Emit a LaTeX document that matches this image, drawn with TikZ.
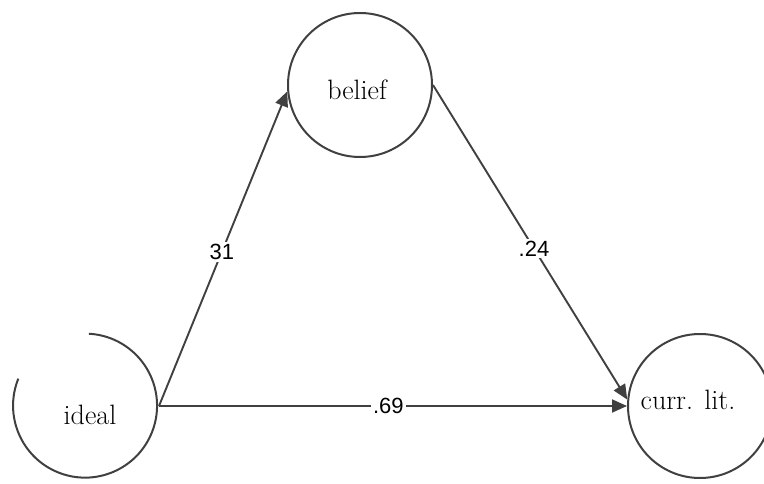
\documentclass[tikz,border=0pt]{standalone}
\usepackage{fontspec}
\newfontfamily\numfont{Liberation Sans}
\usetikzlibrary{arrows.meta}
\begin{document}
\begin{tikzpicture}[x=1pt,y=1pt,
  circ/.style={circle, draw=black!75, line width=2pt, minimum size=144pt, inner sep=0pt},
  txt/.style={inner sep=0pt, font=\fontsize{28}{32}\selectfont},
  conn/.style={draw=black!75, line width=1.9pt},
  arr/.style={conn, -{Triangle[length=15pt,width=13pt]}},
  lbl/.style={fill=white, inner sep=2pt, font=\numfont\fontsize{22}{26}\selectfont}]
\useasboundingbox (0,0) rectangle (764,483);
% circles
\node[circ, draw=none] (ideal) at (86,77) {};
\draw[draw=black!75, line width=2pt] (ideal.158) arc[start angle=158, end angle=447, radius=72pt];
\node[circ] (belief) at (360,398) {};
\node[circ] (currlit) at (700,77) {};
% texts
\node[txt] (idealtxt) at (90,68) {ideal};
\node[txt] (belieftxt) at (357,393) {belief};
\node[txt] (currlittxt) at (688,83) {curr. lit.};
% connectors
\draw[arr] (ideal.east) -- node[lbl, pos=0.49] (l31) {31} (belief.185);
\draw[arr] (belief.east) -- node[lbl, pos=0.52] (l24) {.24} (currlit.175);
\draw[arr] (ideal.east) -- node[lbl, pos=0.49] (l69) {.69} (currlit.west);
\end{tikzpicture}
\end{document}
